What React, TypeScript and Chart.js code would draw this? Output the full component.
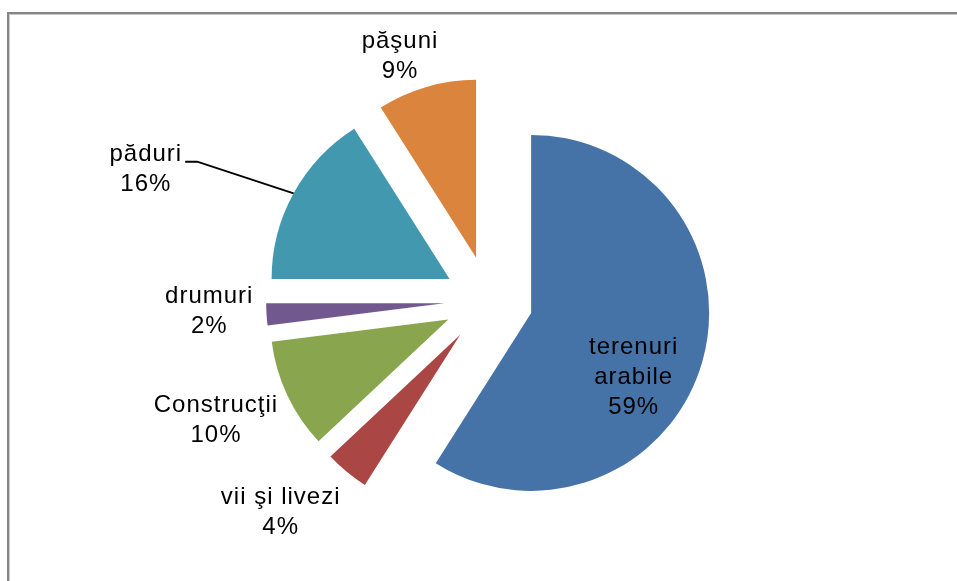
import React, { useEffect, useRef } from "react";
import { Chart, PieController, ArcElement } from "chart.js";

Chart.register(PieController, ArcElement);

// ---- data ----
const categories = ["terenuri arabile", "vii şi livezi", "Construcţii", "drumuri", "păduri", "păşuni"];
const values = [59, 4, 10, 2, 16, 9];
const labelLines = [["terenuri", "arabile"], ["vii şi livezi"], ["Construcţii"], ["drumuri"], ["păduri"], ["păşuni"]];
const colors = ["#4572A7", "#AA4643", "#89A54E", "#71588F", "#4198AF", "#DB843D"];

// ---- label layout (relative to each exploded slice) ----
const labelRadius = [0.6, 1.3, 1.3, 1.3, 1.3, 1.1];
const labelShift: [number, number][] = [[0, 35], [-32, -1], [-23, 2], [-4, -6], [-101, 2], [-21.5, -13]];
const leader = [false, false, false, false, true, false];

const EXPLODE = 44.4;
const LINE_H = 30;

const total = values.reduce((a, b) => a + b, 0);
const percentLabels = values.map((v) => Math.round((v / total) * 100) + "%");

const explodePlugin = {
  id: "explodeLabels",
  beforeDatasetsDraw(chart: any) {
    const meta = chart.getDatasetMeta(0);
    meta.data.forEach((arc: any) => {
      const mid = (arc.startAngle + arc.endAngle) / 2;
      arc._ox = arc.x;
      arc._oy = arc.y;
      arc.x = arc._ox + Math.cos(mid) * EXPLODE;
      arc.y = arc._oy + Math.sin(mid) * EXPLODE;
    });
  },
  afterDatasetsDraw(chart: any) {
    const ctx = chart.ctx as CanvasRenderingContext2D;
    const meta = chart.getDatasetMeta(0);
    meta.data.forEach((arc: any, i: number) => {
      const mid = (arc.startAngle + arc.endAngle) / 2;
      const R = arc.outerRadius;
      const dx = Math.cos(mid);
      const dy = Math.sin(mid);
      const cx = arc.x + dx * R * labelRadius[i] + labelShift[i][0];
      const cy = arc.y + dy * R * labelRadius[i] + labelShift[i][1];
      const lines = [...labelLines[i], percentLabels[i]];
      ctx.save();
      ctx.font = "24px 'Liberation Sans', Arial, sans-serif";
      (ctx as any).letterSpacing = "1px";
      ctx.fillStyle = "#000000";
      ctx.textAlign = "center";
      ctx.textBaseline = "middle";
      const top = cy - ((lines.length - 1) / 2) * LINE_H;
      lines.forEach((t, j) => ctx.fillText(t, cx, top + j * LINE_H));
      if (leader[i]) {
        const w = ctx.measureText(lines[0]).width;
        const x0 = cx + w / 2 + 3;
        const y0 = top + 7;
        ctx.strokeStyle = "#000000";
        ctx.lineWidth = 2;
        ctx.beginPath();
        ctx.moveTo(x0, y0);
        ctx.lineTo(x0 + 12, y0);
        ctx.lineTo(arc.x + dx * R, arc.y + dy * R);
        ctx.stroke();
      }
      ctx.restore();
    });
    meta.data.forEach((arc: any) => {
      arc.x = arc._ox;
      arc.y = arc._oy;
    });
  },
};

export default function App() {
  const ref = useRef<HTMLCanvasElement | null>(null);
  useEffect(() => {
    if (!ref.current) return;
    const chart = new Chart(ref.current, {
      type: "pie",
      data: {
        labels: categories,
        datasets: [
          {
            data: values,
            backgroundColor: colors,
            borderWidth: 0,
            radius: 178,
          } as any,
        ],
      },
      options: {
        responsive: false,
        animation: false,
        events: [],
        layout: { padding: { left: 120, right: 100, top: 40, bottom: 20 } },
        plugins: { legend: { display: false }, tooltip: { enabled: false } },
      } as any,
      plugins: [explodePlugin],
    });
    return () => chart.destroy();
  }, []);
  return (
    <div style={{ position: "absolute", left: 0, top: 0, width: 957, height: 581, overflow: "hidden", background: "#fff" }}>
      <div
        style={{
          position: "absolute",
          left: 7,
          top: 12,
          width: 1200,
          height: 1200,
          borderLeft: "2px solid #858585",
          borderTop: "2px solid #858585",
          boxShadow: "inset 1px 1px 0 #c8c8c8",
        }}
      />
      <canvas ref={ref} width={957} height={581} style={{ position: "absolute", left: 0, top: 0, width: 957, height: 581 }} />
    </div>
  );
}
